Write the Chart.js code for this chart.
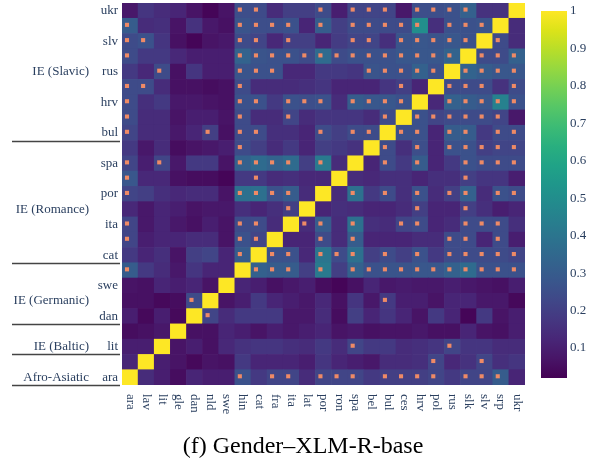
<!DOCTYPE html>
<html>
<head>
<meta charset="utf-8">
<script src="https://cdn.jsdelivr.net/npm/chart.js@4.4.1/dist/chart.umd.min.js"></script>
<style>
  html, body { margin: 0; padding: 0; background: #fff; }
  #c { display: block; }
</style>
</head>
<body>
<canvas id="c" width="593" height="461"></canvas>
<script>
// Languages, in column order (left to right) and row order (bottom to top)
const LANGS = ['ara','lav','lit','gle','dan','nld','swe','hin','cat','fra','ita','lat','por','ron','spa','bel','bul','ces','hrv','pol','rus','slk','slv','srp','ukr'];
const Y_TICK_LANGS = ['ara','lit','dan','swe','cat','ita','por','spa','bul','hrv','rus','slv','ukr'];

// Language families: label placed on one row, separator drawn under the first row of each family
const FAMILY_NAMES = ['Afro-Asiatic','IE (Baltic)','IE (Germanic)','IE (Romance)','IE (Slavic)'];
const FAMILY_LABEL_ROW = ['ara','lit','nld','lat','rus'];
const FAMILY_FIRST_ROW = ['ara','lit','dan','cat','bul'];

const CBAR_TICKS = [0.1,0.2,0.3,0.4,0.5,0.6,0.7,0.8,0.9,1];
const ZMIN = 0.02, ZMAX = 1;

// Similarity scores, one array per row language (columns follow LANGS)
const ukr = [0.08,0.17,0.14,0.12,0.07,0.03,0.07,0.25,0.24,0.14,0.20,0.20,0.24,0.10,0.22,0.22,0.22,0.08,0.25,0.25,0.26,0.32,0.16,0.16,1];
const srp = [0.30,0.14,0.15,0.07,0.16,0.08,0.06,0.27,0.25,0.25,0.26,0.12,0.30,0.20,0.24,0.24,0.24,0.24,0.50,0.15,0.26,0.26,0.27,1,0.14];
const slv = [0.24,0.26,0.17,0.06,0.03,0.07,0.08,0.24,0.22,0.13,0.20,0.20,0.12,0.19,0.22,0.22,0.15,0.27,0.28,0.27,0.28,0.26,1,0.24,0.14];
const slk = [0.24,0.18,0.18,0.13,0.10,0.10,0.10,0.33,0.27,0.26,0.26,0.24,0.36,0.24,0.26,0.26,0.26,0.28,0.28,0.28,0.33,1,0.24,0.24,0.32];
const rus = [0.18,0.13,0.24,0.06,0.17,0.10,0.10,0.27,0.26,0.26,0.13,0.13,0.18,0.18,0.17,0.27,0.26,0.26,0.32,0.26,1,0.33,0.30,0.28,0.28];
const pol = [0.24,0.24,0.14,0.06,0.06,0.05,0.06,0.24,0.14,0.14,0.14,0.15,0.17,0.12,0.12,0.12,0.17,0.20,0.12,1,0.24,0.24,0.24,0.16,0.24];
const hrv = [0.24,0.15,0.18,0.08,0.08,0.07,0.06,0.26,0.26,0.18,0.26,0.25,0.26,0.14,0.30,0.28,0.28,0.26,1,0.13,0.32,0.30,0.28,0.45,0.26];
const ces = [0.24,0.14,0.14,0.07,0.10,0.10,0.07,0.24,0.14,0.14,0.22,0.14,0.17,0.17,0.17,0.14,0.24,1,0.26,0.22,0.24,0.24,0.24,0.22,0.08];
const bul = [0.22,0.14,0.14,0.08,0.12,0.20,0.06,0.24,0.24,0.15,0.15,0.12,0.24,0.20,0.24,0.24,1,0.26,0.26,0.12,0.30,0.30,0.18,0.24,0.24];
const bel = [0.18,0.08,0.14,0.05,0.07,0.08,0.10,0.24,0.20,0.14,0.18,0.12,0.20,0.18,0.16,1,0.24,0.15,0.25,0.12,0.26,0.26,0.20,0.22,0.22];
const spa = [0.22,0.10,0.22,0.08,0.18,0.18,0.07,0.32,0.36,0.33,0.36,0.20,0.42,0.14,1,0.12,0.24,0.18,0.30,0.12,0.18,0.26,0.24,0.24,0.24];
const ron = [0.28,0.13,0.13,0.06,0.05,0.05,0.03,0.18,0.18,0.14,0.15,0.13,0.13,1,0.14,0.13,0.15,0.15,0.12,0.15,0.15,0.20,0.17,0.17,0.10];
const por = [0.22,0.20,0.15,0.13,0.14,0.14,0.07,0.38,0.38,0.26,0.30,0.14,1,0.14,0.38,0.18,0.24,0.15,0.26,0.14,0.20,0.32,0.14,0.26,0.24];
const lat = [0.13,0.08,0.12,0.10,0.07,0.08,0.08,0.15,0.12,0.15,0.20,1,0.12,0.15,0.14,0.12,0.12,0.14,0.20,0.12,0.12,0.20,0.15,0.10,0.12];
const ita = [0.22,0.08,0.12,0.08,0.06,0.10,0.07,0.24,0.24,0.14,1,0.14,0.30,0.14,0.38,0.15,0.14,0.22,0.24,0.12,0.14,0.24,0.24,0.24,0.15];
const fra = [0.22,0.10,0.12,0.12,0.14,0.14,0.07,0.26,0.22,1,0.12,0.12,0.24,0.14,0.30,0.12,0.12,0.12,0.14,0.14,0.24,0.24,0.12,0.24,0.10];
const cat = [0.18,0.12,0.15,0.07,0.20,0.22,0.12,0.30,1,0.26,0.26,0.13,0.40,0.24,0.38,0.20,0.24,0.20,0.26,0.18,0.24,0.24,0.24,0.24,0.22];
const hin = [0.30,0.18,0.14,0.08,0.17,0.12,0.12,1,0.32,0.30,0.30,0.20,0.42,0.20,0.32,0.26,0.27,0.27,0.28,0.28,0.32,0.36,0.26,0.26,0.26];
const swe = [0.07,0.06,0.12,0.10,0.12,0.07,1,0.12,0.10,0.06,0.08,0.10,0.05,0.03,0.06,0.12,0.08,0.09,0.08,0.08,0.10,0.08,0.07,0.06,0.10];
const nld = [0.06,0.06,0.04,0.05,0.24,1,0.07,0.10,0.18,0.12,0.10,0.08,0.13,0.06,0.17,0.08,0.18,0.10,0.10,0.07,0.12,0.12,0.08,0.08,0.04];
const dan = [0.10,0.04,0.10,0.04,1,0.22,0.14,0.18,0.18,0.18,0.08,0.08,0.14,0.05,0.20,0.12,0.17,0.12,0.07,0.18,0.12,0.03,0.18,0.07,0.10];
const gle = [0.05,0.06,0.08,1,0.06,0.06,0.12,0.10,0.07,0.10,0.08,0.10,0.12,0.07,0.08,0.06,0.07,0.07,0.08,0.06,0.06,0.12,0.07,0.06,0.10];
const lit = [0.10,0.10,1,0.07,0.10,0.06,0.13,0.16,0.17,0.17,0.15,0.14,0.18,0.14,0.22,0.18,0.18,0.14,0.15,0.17,0.22,0.17,0.17,0.14,0.14];
const lav = [0.12,1,0.10,0.07,0.04,0.07,0.06,0.18,0.12,0.12,0.12,0.10,0.17,0.12,0.10,0.08,0.14,0.14,0.15,0.22,0.13,0.16,0.22,0.15,0.17];
const ara = [1,0.14,0.10,0.05,0.12,0.10,0.10,0.26,0.18,0.22,0.22,0.14,0.22,0.22,0.22,0.18,0.20,0.20,0.20,0.22,0.18,0.22,0.22,0.30,0.12];

// Significant pairs per row language (column languages)
const sig_ukr = ['hin','cat','por','spa','bel','bul','hrv','pol','rus','slk'];
const sig_srp = ['ara','hin','cat','fra','ita','por','spa','bel','bul','ces','hrv','rus','slk','slv'];
const sig_slv = ['ara','lav','hin','cat','ita','spa','bel','ces','hrv','pol','rus','slk','srp'];
const sig_slk = ['ara','hin','cat','fra','ita','lat','por','ron','spa','bel','bul','ces','hrv','pol','rus','slv','srp','ukr'];
const sig_rus = ['lit','hin','cat','fra','bel','bul','ces','hrv','pol','slk','slv','srp','ukr'];
const sig_pol = ['ara','lav','hin','ces','rus','slk','slv','ukr'];
const sig_hrv = ['ara','hin','cat','ita','lat','por','spa','bel','bul','ces','rus','slk','slv','srp','ukr'];
const sig_ces = ['ara','hin','ita','bul','hrv','pol','rus','slk','slv','srp'];
const sig_bul = ['ara','nld','hin','cat','por','spa','bel','ces','hrv','rus','slk','srp','ukr'];
const sig_bel = ['hin','bul','hrv','rus','slk','slv','srp','ukr'];
const sig_spa = ['ara','lit','hin','cat','fra','ita','por','bul','hrv','slk','slv','srp','ukr'];
const sig_ron = ['ara','cat','slk'];
const sig_por = ['ara','hin','cat','fra','ita','spa','bul','hrv','rus','slk','srp','ukr'];
const sig_lat = ['ita','hrv','slk'];
const sig_ita = ['ara','hin','cat','lat','por','spa','ces','hrv','slk','slv','srp'];
const sig_fra = ['ara','hin','cat','por','spa','rus','slk','srp'];
const sig_cat = ['hin','fra','ita','por','ron','spa','bul','hrv','rus','slk','slv','srp','ukr'];
const sig_hin = ['ara','cat','fra','ita','por','spa','bel','bul','ces','hrv','pol','rus','slk','slv','srp','ukr'];
const sig_swe = [];
const sig_nld = ['dan','bul'];
const sig_dan = ['nld'];
const sig_gle = [];
const sig_lit = ['spa','rus'];
const sig_lav = ['pol','slv'];
const sig_ara = ['hin','fra','ita','por','ron','spa','bul','ces','hrv','pol','slk','slv','srp'];

// Rows bottom to top, same order as LANGS
const SCORES = [ara,lav,lit,gle,dan,nld,swe,hin,cat,fra,ita,lat,por,ron,spa,bel,bul,ces,hrv,pol,rus,slk,slv,srp,ukr];
const SIGNIFICANT = [sig_ara,sig_lav,sig_lit,sig_gle,sig_dan,sig_nld,sig_swe,sig_hin,sig_cat,sig_fra,sig_ita,sig_lat,sig_por,sig_ron,sig_spa,sig_bel,sig_bul,sig_ces,sig_hrv,sig_pol,sig_rus,sig_slk,sig_slv,sig_srp,sig_ukr];

// Viridis colour map
const VIRIDIS = ['#440154','#481567','#482677','#453781','#404788','#39568C','#33638D','#2D708E','#287D8E','#238A8D','#1F968B','#20A387','#29AF7F','#3CBB75','#55C667','#73D055','#95D840','#B8DE29','#DCE319','#FDE725'];
function hexRgb(h) { return [1,3,5].map(i => parseInt(h.substr(i,2),16)); }
const VIRIDIS_RGB = VIRIDIS.map(hexRgb);
function colorFor(v) {
  let t = (v - ZMIN) / (ZMAX - ZMIN);
  t = Math.max(0, Math.min(1, t));
  const p = t * (VIRIDIS_RGB.length - 1);
  const i = Math.min(Math.floor(p), VIRIDIS_RGB.length - 2);
  const f = p - i;
  const a = VIRIDIS_RGB[i], b = VIRIDIS_RGB[i+1];
  const c = a.map((x, k) => Math.round(x + (b[k]-x)*f));
  return `rgb(${c[0]},${c[1]},${c[2]})`;
}

const TEXT = '#2a3f5f';
const SERIF = '"Liberation Serif", "Times New Roman", serif';
const MARK_SHIFT = { x: -0.19, y: 0.07 };

// One floating-bar dataset per row: each cell spans [row, row + 1] on the y scale
const cellSets = SCORES.map((row, k) => ({
  type: 'bar',
  label: LANGS[k],
  data: row.map(() => [k, k + 1]),
  backgroundColor: row.map(colorFor),
  borderWidth: 0,
  barPercentage: 1,
  categoryPercentage: 1,
  grouped: false,
  order: 2
}));

const markPoints = [];
SIGNIFICANT.forEach((cols, k) => {
  cols.forEach(name => {
    markPoints.push({ x: LANGS.indexOf(name) + MARK_SHIFT.x, y: k + 0.5 + MARK_SHIFT.y });
  });
});

const markSet = {
  type: 'scatter',
  label: 'significant',
  data: markPoints,
  xAxisID: 'xm',
  yAxisID: 'y',
  pointStyle: 'rect',
  pointRadius: 2.9,
  pointHoverRadius: 2.9,
  backgroundColor: '#ee8a66',
  borderWidth: 0,
  order: 0
};

const decorations = {
  id: 'decorations',
  afterDraw(chart) {
    const { ctx, scales: { x, y } } = chart;
    ctx.save();

    // Rotated column labels
    ctx.font = `13px ${SERIF}`;
    ctx.fillStyle = TEXT;
    LANGS.forEach((name, i) => {
      ctx.save();
      ctx.translate(x.getPixelForValue(i), y.bottom + 9);
      ctx.rotate(Math.PI / 2);
      ctx.textAlign = 'left';
      ctx.textBaseline = 'middle';
      ctx.fillText(name, 0, 0);
      ctx.restore();
    });

    // Family labels and separators
    ctx.textAlign = 'right';
    ctx.textBaseline = 'middle';
    FAMILY_NAMES.forEach((name, g) => {
      const k = LANGS.indexOf(FAMILY_LABEL_ROW[g]);
      ctx.fillText(name, 89, y.getPixelForValue(k + 0.5));
    });
    ctx.strokeStyle = '#444';
    ctx.lineWidth = 1.6;
    FAMILY_FIRST_ROW.forEach(name => {
      const py = Math.round(y.getPixelForValue(LANGS.indexOf(name))) + 0.5;
      ctx.beginPath();
      ctx.moveTo(12, py);
      ctx.lineTo(120, py);
      ctx.stroke();
    });

    // Colour bar
    const cbL = 541, cbR = 567, cbT = 11, cbB = 378;
    const grad = ctx.createLinearGradient(0, cbB, 0, cbT);
    VIRIDIS.forEach((c, i) => grad.addColorStop(i / (VIRIDIS.length - 1), c));
    ctx.fillStyle = grad;
    ctx.fillRect(cbL, cbT, cbR - cbL, cbB - cbT);
    ctx.fillStyle = TEXT;
    ctx.textAlign = 'left';
    ctx.textBaseline = 'middle';
    CBAR_TICKS.forEach(v => {
      const py = cbT + (1 - (v - ZMIN) / (ZMAX - ZMIN)) * (cbB - cbT);
      ctx.fillText(v === 1 ? '1' : v.toFixed(1), cbR + 3, py);
    });

    // Caption
    ctx.fillStyle = '#000';
    ctx.font = `24px ${SERIF}`;
    ctx.textAlign = 'center';
    ctx.fillText('(f) Gender\u2013XLM-R-base', 303, 447);
    ctx.restore();
  }
};

new Chart(document.getElementById('c'), {
  type: 'bar',
  data: { labels: LANGS, datasets: [...cellSets, markSet] },
  options: {
    responsive: false,
    animation: false,
    events: [],
    layout: { padding: { left: 0, right: 68, top: 3, bottom: 76 } },
    plugins: { legend: { display: false }, tooltip: { enabled: false }, title: { display: false } },
    scales: {
      x: { type: 'category', display: false, offset: true, grid: { display: false } },
      xm: { type: 'linear', display: false, offset: false, bounds: 'data', min: -0.5, max: 24.5 },
      y: {
        type: 'linear',
        min: 0,
        max: 25,
        grid: { display: false, drawTicks: false },
        border: { display: false },
        afterBuildTicks: s => { s.ticks = Y_TICK_LANGS.map(n => ({ value: LANGS.indexOf(n) + 0.5 })); },
        afterFit: s => { s.width = 122; s.paddingTop = 0; s.paddingBottom = 0; },
        ticks: {
          autoSkip: false,
          padding: 4,
          color: TEXT,
          font: { family: SERIF, size: 13 },
          callback: v => LANGS[Math.floor(v)]
        }
      }
    }
  },
  plugins: [decorations]
});
</script>
</body>
</html>
